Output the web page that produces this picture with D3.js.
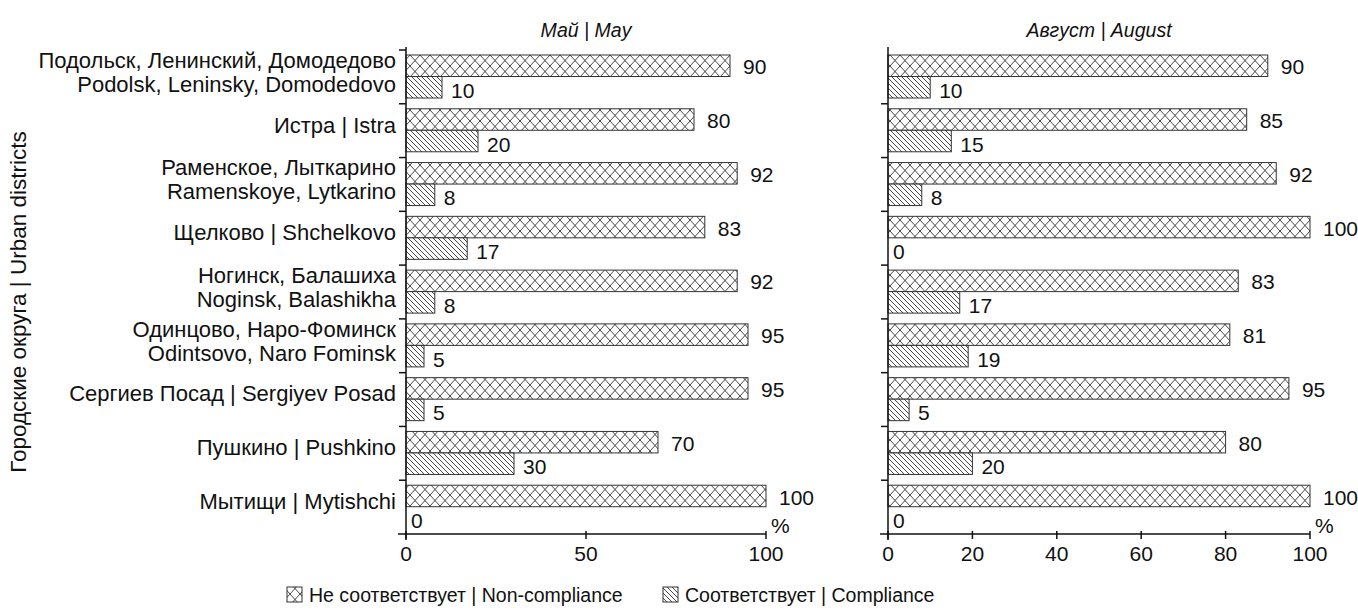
<!DOCTYPE html>
<html><head><meta charset="utf-8">
<script src="https://cdn.jsdelivr.net/npm/d3@7"></script>
<style>
body{margin:0;background:#fff;}
text{font-family:"Liberation Sans",Arial,sans-serif;fill:#111;}
</style></head>
<body><svg id="c" width="1358" height="613"></svg>
<script>
const categoriesRu = ["Подольск, Ленинский, Домодедово","Истра | Istra","Раменское, Лыткарино","Щелково | Shchelkovo","Ногинск, Балашиха","Одинцово, Наро-Фоминск","Сергиев Посад | Sergiyev Posad","Пушкино | Pushkino","Мытищи | Mytishchi"];
const categoriesEn = ["Podolsk, Leninsky, Domodedovo","","Ramenskoye, Lytkarino","","Noginsk, Balashikha","Odintsovo, Naro Fominsk","","",""];
const mayNon = [90,80,92,83,92,95,95,70,100];
const mayComp = [10,20,8,17,8,5,5,30,0];
const augNon = [90,85,92,100,83,81,95,80,100];
const augComp = [10,15,8,0,17,19,5,20,0];
const mayTicks = [0,50,100];
const augTicks = [0,20,40,60,80,100];
const panelTitles = ["Май | May","Август | August"];
const legendLabels = ["Не соответствует | Non-compliance","Соответствует | Compliance"];
const yTitle = "Городские округа | Urban districts";

const svg = d3.select("#c");
const defs = svg.append("defs");
const pc = defs.append("pattern").attr("id","cross").attr("patternUnits","userSpaceOnUse").attr("width",10).attr("height",11);
pc.append("rect").attr("width",10).attr("height",11).attr("fill","#fff");
pc.append("path").attr("d","M0,0L10,11M10,0L0,11").attr("stroke","#333").attr("stroke-width",0.9);
const ph = defs.append("pattern").attr("id","hatch").attr("patternUnits","userSpaceOnUse").attr("width",5).attr("height",5);
ph.append("rect").attr("width",5).attr("height",5).attr("fill","#fff");
ph.append("path").attr("d","M-1,-1L6,6M-1,4L1,6M4,-1L6,1").attr("stroke","#333").attr("stroke-width",0.9);

const plotTop = 50, plotBottom = 534;
const idx = d3.range(categoriesRu.length);
const y = d3.scaleBand().domain(idx).range([plotTop,plotBottom]).paddingInner(0).paddingOuter(0);
const FS = 21;

function panel(x0,x1,non,comp,ticks,title,topTick){
  const x = d3.scaleLinear().domain([0,100]).range([x0,x1]);
  const g = svg.append("g");
  const bh = 21.5, pad = 5;
  idx.forEach(i=>{
    const by = y(i)+pad;
    g.append("rect").attr("x",x(0)).attr("y",by).attr("width",x(non[i])-x(0)).attr("height",bh)
      .attr("fill","url(#cross)").attr("stroke","#333").attr("stroke-width",1);
    g.append("text").attr("x",x(non[i])+13).attr("y",by+bh/2+1).attr("dy","0.36em").attr("font-size",FS).text(non[i]);
    const cy = by+bh;
    if(comp[i]>0) g.append("rect").attr("x",x(0)).attr("y",cy).attr("width",x(comp[i])-x(0)).attr("height",bh)
      .attr("fill","url(#hatch)").attr("stroke","#333").attr("stroke-width",1);
    g.append("text").attr("x",x(comp[i])+(comp[i]>0?9:5)).attr("y",cy+bh/2+3).attr("dy","0.36em").attr("font-size",FS).text(comp[i]);
  });
  g.append("line").attr("x1",x0).attr("x2",x0).attr("y1",plotTop-3).attr("y2",plotBottom+6).attr("stroke","#111").attr("stroke-width",1.5);
  const bounds = d3.range(categoriesRu.length+1).map(k=>plotTop+k*y.bandwidth());
  bounds.forEach((b,k)=>{ if(k===0 && !topTick) return; if(k===bounds.length-1) return;
    g.append("line").attr("x1",x0-7).attr("x2",x0).attr("y1",b).attr("y2",b).attr("stroke","#111").attr("stroke-width",1.5);});
  g.append("line").attr("x1",x0-8).attr("x2",x1).attr("y1",plotBottom).attr("y2",plotBottom).attr("stroke","#111").attr("stroke-width",1.5);
  ticks.forEach(t=>{
    g.append("line").attr("x1",x(t)).attr("x2",x(t)).attr("y1",plotBottom-3).attr("y2",plotBottom+5).attr("stroke","#111").attr("stroke-width",1.5);
    g.append("text").attr("x",x(t)).attr("y",plotBottom+27).attr("text-anchor","middle").attr("font-size",FS).text(t);
  });
  g.append("text").attr("x",x1+5).attr("y",plotBottom-1).attr("font-size",FS).text("%");
  g.append("text").attr("x",(x0+x1)/2).attr("y",37).attr("text-anchor","middle").attr("font-size",19.5).attr("font-style","italic").text(title);
}
panel(406,766,mayNon,mayComp,mayTicks,panelTitles[0],true);
panel(888,1310,augNon,augComp,augTicks,panelTitles[1],false);

idx.forEach(i=>{
  const cy = y(i)+y.bandwidth()/2 - 6;
  if(categoriesEn[i]){
    svg.append("text").attr("x",396).attr("y",cy-11).attr("dy","0.36em").attr("text-anchor","end").attr("font-size",22).text(categoriesRu[i]);
    svg.append("text").attr("x",396).attr("y",cy+13).attr("dy","0.36em").attr("text-anchor","end").attr("font-size",22).text(categoriesEn[i]);
  } else {
    svg.append("text").attr("x",396).attr("y",cy).attr("dy","0.36em").attr("text-anchor","end").attr("font-size",22).text(categoriesRu[i]);
  }
});
svg.append("text").attr("transform","translate(26,302) rotate(-90)").attr("text-anchor","middle").attr("font-size",22.5).text(yTitle);

const leg = [{x:287,fill:"url(#cross)",t:legendLabels[0]},{x:663,fill:"url(#hatch)",t:legendLabels[1]}];
leg.forEach(l=>{
  svg.append("rect").attr("x",l.x).attr("y",587).attr("width",15).attr("height",15).attr("fill",l.fill).attr("stroke","#333");
  svg.append("text").attr("x",l.x+22).attr("y",595).attr("dy","0.36em").attr("font-size",19.5).text(l.t);
});
</script></body></html>
